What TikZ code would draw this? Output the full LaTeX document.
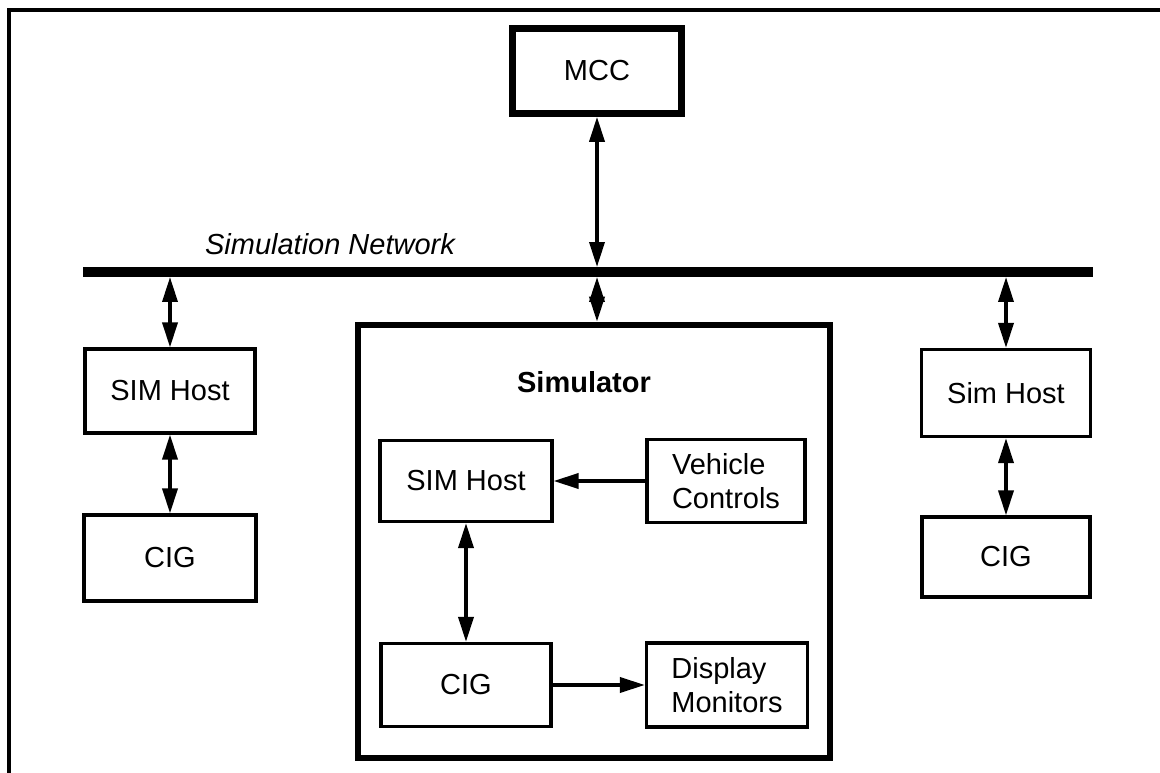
\documentclass[tikz,border=0pt]{standalone}
\usepackage{fontspec}
\setmainfont{Liberation Sans}
\usetikzlibrary{arrows.meta,positioning}

\begin{document}
\begin{tikzpicture}[
    x=0.02cm, y=-0.02cm,
    blk/.style={draw, line width=1.8pt, font=\fontsize{16.5}{19}\selectfont, align=center, inner sep=0pt},
    thickblk/.style={blk, line width=3.8pt},
    lbl/.style={font=\fontsize{16.5}{19}\selectfont, anchor=base, inner sep=0pt},
    link/.style={line width=2pt, {Triangle[length=0.5cm,width=0.3cm]}-{Triangle[length=0.5cm,width=0.3cm]}},
    feed/.style={line width=2pt, -{Triangle[length=0.5cm,width=0.3cm]}},
    bus/.style={line width=5.5pt},
    frame/.style={line width=2.2pt}
]
\useasboundingbox (0,0) rectangle (1160,773);

% Page frame
\draw[frame] (9,773) -- (9,10) -- (1160,10);

% Control console
\node[thickblk, minimum width=3.38cm, minimum height=1.70cm] (mcc) at (597,71) {MCC};

% Simulation network
\coordinate (busL) at (83,272);
\coordinate (busR) at (1093,272);
\draw[bus] (busL) -- (busR);
\node[lbl, font=\fontsize{16.5}{19}\selectfont\itshape] (netlbl) at (330,255) {Simulation Network};
\coordinate (tapM) at (597,267);
\coordinate (tapL) at (170,277);
\coordinate (tapS) at (597,277);
\coordinate (tapR) at (1006,277);

% Left station
\node[blk, minimum width=3.40cm, minimum height=1.68cm] (lhost) at (170,391) {SIM Host};
\node[blk, minimum width=3.44cm, minimum height=1.72cm] (lcig) at (170,558) {CIG};

% Right station
\node[blk, minimum width=3.38cm, minimum height=1.74cm] (rhost) at (1006,393) {Sim Host};
\node[blk, minimum width=3.36cm, minimum height=1.60cm] (rcig) at (1006,557) {CIG};

% Simulator
\node[thickblk, minimum width=9.44cm, minimum height=8.66cm] (sim) at (594,541.5) {};
\node[lbl, font=\fontsize{16.5}{19}\selectfont\bfseries] (simlbl) at (584,393) {Simulator};
\node[blk, minimum width=3.44cm, minimum height=1.62cm] (shost) at (466,481) {SIM Host};
\node[blk, minimum width=3.16cm, minimum height=1.66cm, align=left] (vctl) at (726,481) {Vehicle\\Controls};
\node[blk, minimum width=3.40cm, minimum height=1.66cm] (scig) at (466,685) {CIG};
\node[blk, minimum width=3.22cm, minimum height=1.68cm, align=left] (disp) at (727,685) {Display\\Monitors};

% Connections
\draw[link] (mcc) -- (tapM);
\draw[link] (tapL) -- (lhost);
\draw[link] (tapS) -- (tapS |- sim.north);
\draw[link] (tapR) -- (rhost);
\draw[link] (lhost) -- (lcig);
\draw[link] (rhost) -- (rcig);
\draw[link] (shost) -- (scig);
\draw[feed] (vctl) -- (shost);
\draw[feed] (scig) -- (disp);
\end{tikzpicture}
\end{document}
